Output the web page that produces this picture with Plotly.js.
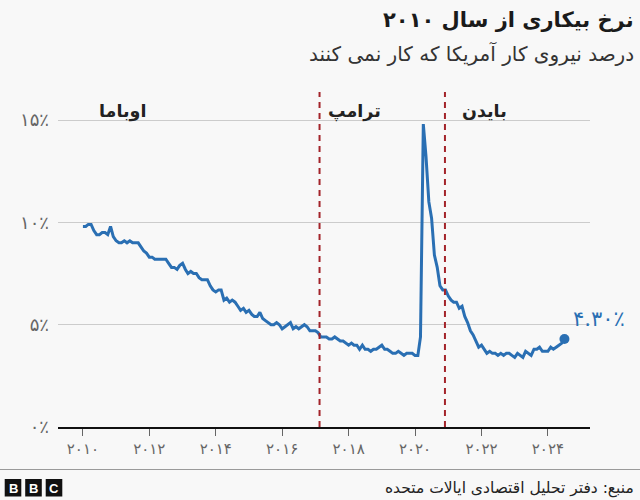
<!DOCTYPE html>
<html>
<head>
<meta charset="utf-8">
<script src="https://cdn.plot.ly/plotly-3.0.1.min.js"></script>
<style>
html,body{margin:0;padding:0;background:#f8f8f8;}
#chart{width:640px;height:500px;}
</style>
</head>
<body>
<div id="chart"></div>
<script>
// Monthly US unemployment rate (%), Jan 2010 – Jul 2024
const startYear = 2010;
const rate2010 = [9.8, 9.8, 9.9, 9.9, 9.6, 9.4, 9.4, 9.5, 9.5, 9.4, 9.8, 9.3];
const rate2011 = [9.1, 9.0, 9.0, 9.1, 9.0, 9.1, 9.0, 9.0, 9.0, 8.8, 8.6, 8.5];
const rate2012 = [8.3, 8.3, 8.2, 8.2, 8.2, 8.2, 8.2, 8.0, 7.8, 7.8, 7.7, 7.9];
const rate2013 = [8.0, 7.7, 7.5, 7.6, 7.5, 7.5, 7.3, 7.2, 7.2, 7.2, 6.9, 6.7];
const rate2014 = [6.6, 6.7, 6.7, 6.2, 6.3, 6.1, 6.2, 6.1, 5.9, 5.7, 5.8, 5.6];
const rate2015 = [5.7, 5.5, 5.4, 5.4, 5.6, 5.3, 5.2, 5.1, 5.0, 5.0, 5.1, 5.0];
const rate2016 = [4.8, 4.9, 5.0, 5.1, 4.8, 4.9, 4.8, 4.9, 5.0, 4.9, 4.7, 4.7];
const rate2017 = [4.7, 4.6, 4.4, 4.4, 4.4, 4.3, 4.3, 4.4, 4.3, 4.2, 4.2, 4.1];
const rate2018 = [4.0, 4.1, 4.0, 4.0, 3.8, 4.0, 3.8, 3.8, 3.7, 3.8, 3.8, 3.9];
const rate2019 = [4.0, 3.8, 3.8, 3.7, 3.6, 3.6, 3.7, 3.6, 3.5, 3.6, 3.6, 3.6];
const rate2020 = [3.5, 3.5, 4.4, 14.8, 13.2, 11.0, 10.2, 8.4, 7.8, 6.9, 6.7, 6.7];
const rate2021 = [6.4, 6.2, 6.1, 6.1, 5.8, 5.9, 5.4, 5.1, 4.7, 4.5, 4.2, 3.9];
const rate2022 = [4.0, 3.8, 3.6, 3.7, 3.6, 3.6, 3.5, 3.6, 3.5, 3.6, 3.6, 3.5];
const rate2023 = [3.4, 3.6, 3.5, 3.4, 3.7, 3.6, 3.5, 3.8, 3.8, 3.9, 3.7, 3.7];
const rate2024 = [3.7, 3.9, 3.8, 3.9, 4.0, 4.1, 4.3];

const yearlyRates = [rate2010, rate2011, rate2012, rate2013, rate2014, rate2015, rate2016,
  rate2017, rate2018, rate2019, rate2020, rate2021, rate2022, rate2023, rate2024];

// Dividers between presidencies (as drawn) and labels
const termDividers = ["2017-02-15", "2020-11-25"];
const presidents = ["اوباما", "ترامپ", "بایدن"];
const presidentLabelX = ["2011-03-15", "2018-03-01", "2022-02-01"];

// Axis ticks
const xTickVals = ["2010-01-01","2012-01-01","2014-01-01","2016-01-01","2018-01-01","2020-01-01","2022-01-01","2024-01-01"];
const xTickText = ["۲۰۱۰","۲۰۱۲","۲۰۱۴","۲۰۱۶","۲۰۱۸","۲۰۲۰","۲۰۲۲","۲۰۲۴"];
const yTickVals = [0, 5, 10, 15];
const yTickText = ["۰٪","۵٪","۱۰٪","۱۵٪"];

const titleText = "نرخ بیکاری از سال ۲۰۱۰";
const subtitleText = "درصد نیروی کار آمریکا که کار نمی کنند";
const sourceText = "منبع: دفتر تحلیل اقتصادی ایالات متحده";
const lastLabel = "۴.۳۰٪";

// Build series
const dates = [], values = [];
yearlyRates.forEach((arr, yi) => {
  arr.forEach((v, m) => {
    const mm = String(m + 1).padStart(2, "0");
    dates.push((startYear + yi) + "-" + mm + "-01");
    values.push(v);
  });
});
const lastDate = dates[dates.length - 1];
const lastVal = values[values.length - 1];

const blue = "#2a6fb3";
const red = "#a3242a";

const traces = [
  {x: dates, y: values, type: "scatter", mode: "lines",
   line: {color: blue, width: 3}, hoverinfo: "skip"},
  {x: [lastDate], y: [lastVal], type: "scatter", mode: "markers",
   marker: {color: blue, size: 10}, hoverinfo: "skip"}
];

// plot area: left 58, top 92, width 532, height 335
const PL = 58, PT = 92, PW = 532, PH = 335;
const px2x = p => (p - PL) / PW;
const px2y = p => (PT + PH - p) / PH;

const shapes = termDividers.map(d => ({
  type: "line", xref: "x", yref: "paper", x0: d, x1: d, y0: 0, y1: 1,
  line: {color: red, width: 2, dash: "6px,5px"}, layer: "above"
}));
shapes.push({type: "line", xref: "paper", yref: "paper", x0: px2x(0), x1: px2x(640),
  y0: px2y(469.5), y1: px2y(469.5), line: {color: "#9a9a9a", width: 1}});

const fontFam = "'DejaVu Sans', 'Noto Sans', sans-serif";

const annotations = [
  {text: "<b>" + titleText + "</b>", xref: "paper", yref: "paper", x: px2x(636), y: px2y(20),
   xanchor: "right", yanchor: "middle", showarrow: false,
   font: {size: 21, color: "#1a1a1a", family: fontFam}},
  {text: subtitleText, xref: "paper", yref: "paper", x: px2x(636), y: px2y(53),
   xanchor: "right", yanchor: "middle", showarrow: false,
   font: {size: 20, color: "#333333", family: fontFam}},
  {text: sourceText, xref: "paper", yref: "paper", x: px2x(636), y: px2y(488),
   xanchor: "right", yanchor: "middle", showarrow: false,
   font: {size: 15.5, color: "#222222", family: fontFam}},
  {text: lastLabel, x: lastDate, y: lastVal, xref: "x", yref: "y",
   xanchor: "left", yanchor: "middle", xshift: 7, yshift: 20, showarrow: false,
   font: {size: 21, color: blue, family: fontFam}}
];
presidents.forEach((p, i) => {
  annotations.push({text: "<b>" + p + "</b>", x: presidentLabelX[i], y: px2y(111), xref: "x", yref: "paper",
    xanchor: "center", yanchor: "middle", showarrow: false,
    font: {size: 17.5, color: "#222222", family: fontFam}});
});
// BBC logo
const bbcLetters = ["B", "B", "C"];
const bbcX = [13, 33.5, 54];
bbcLetters.forEach((l, i) => {
  const c = bbcX[i];
  shapes.push({type: "rect", xref: "paper", yref: "paper",
    x0: px2x(c - 8.3), x1: px2x(c + 8.3), y0: px2y(479), y1: px2y(496.5),
    fillcolor: "#111111", line: {width: 0}});
  annotations.push({text: "<b>" + l + "</b>", xref: "paper", yref: "paper",
    x: px2x(c), y: px2y(488), xanchor: "center", yanchor: "middle",
    showarrow: false, font: {size: 13, color: "#ffffff", family: "'Liberation Sans', Arial, sans-serif"}});
});

const layout = {
  width: 640, height: 500,
  margin: {l: PL, r: 640 - PL - PW, t: PT, b: 500 - PT - PH},
  paper_bgcolor: "#f8f8f8", plot_bgcolor: "#f8f8f8",
  showlegend: false,
  xaxis: {
    type: "date", range: ["2009-04-02", "2025-04-08"],
    tickvals: xTickVals, ticktext: xTickText,
    showgrid: false, zeroline: false,
    showline: true, linecolor: "#111111", linewidth: 2,
    ticks: "outside", ticklen: 7, tickwidth: 1, tickcolor: "#666666",
    tickfont: {size: 15, color: "#666666", family: fontFam},
    fixedrange: true
  },
  yaxis: {
    range: [0, 16.37],
    tickvals: yTickVals, ticktext: yTickText,
    showgrid: true, gridcolor: "#cccccc", gridwidth: 1,
    zeroline: false, showline: false, ticks: "",
    tickfont: {size: 18, color: "#666666", family: fontFam},
    ticklabelstandoff: 8,
    fixedrange: true
  },
  shapes: shapes,
  annotations: annotations
};

Plotly.newPlot("chart", traces, layout, {displayModeBar: false, staticPlot: true});
</script>
</body>
</html>
